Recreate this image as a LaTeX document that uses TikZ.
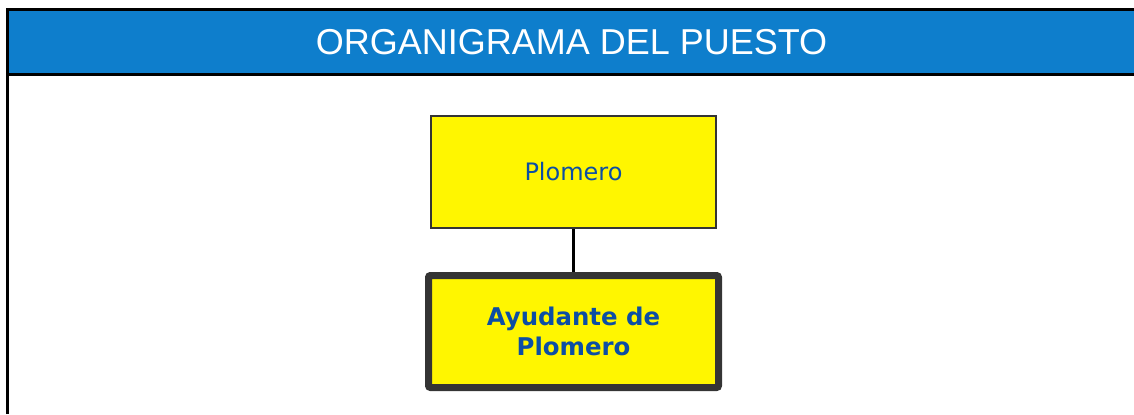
\documentclass[tikz,border=0pt]{standalone}
\usepackage{fontspec}
\setmainfont{Liberation Sans}
\newfontfamily\boxfont{DejaVu Sans}
\usepackage{tikz}
\usetikzlibrary{positioning}
\definecolor{headblue}{RGB}{14,126,204}
\definecolor{boxyellow}{RGB}{255,246,0}
\definecolor{boxtext}{RGB}{12,78,164}
\definecolor{boxline}{RGB}{52,52,52}

\begin{document}
\begin{tikzpicture}[
x=0.5pt, y=-0.5pt,
frame/.style={line width=1.5pt,black},
puesto/.style={draw=boxline,fill=boxyellow,line width=1pt,minimum width=142.5pt,minimum height=56pt,
  font=\boxfont\fontsize{12}{14}\selectfont,text=boxtext},
actual/.style={draw=boxline,fill=boxyellow,line width=3.5pt,rounded corners=1pt,minimum width=145pt,minimum height=56pt,
  align=center,font=\boxfont\bfseries\fontsize{12.2}{15}\selectfont,text=boxtext},
link/.style={line width=1.4pt,black}
]
    % Page size
    \useasboundingbox (0,0) rectangle (1134,414);

    % Header band
    \fill [draw=none, fill=headblue] (7,9) rectangle (1134,74);
    \node (titulo) [text=white, font=\fontsize{18}{22}\selectfont] at (571.5,42) {ORGANIGRAMA DEL PUESTO};

    % Frame lines
    \draw[frame] (7,414) |- (1134,9);
    \draw[frame] (7,74) -- (1134,74);

    % Chart
    \node (plomero) [puesto] at (573.5,172) {Plomero};
    \node (ayudante) [actual, below=21.5pt of plomero.south, anchor=north] {Ayudante de\\Plomero};
    \draw[link] (plomero.south) -- (ayudante.north);
\end{tikzpicture}
\end{document}
